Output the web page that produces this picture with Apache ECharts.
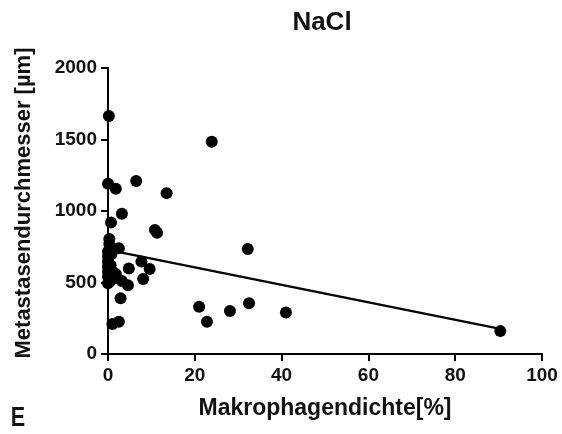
<!DOCTYPE html>
<html>
<head>
<meta charset="utf-8">
<title>NaCl</title>
<script src="https://cdn.jsdelivr.net/npm/echarts@6.0.0/dist/echarts.min.js"></script>
<style>
	html, body { margin: 0; padding: 0; background: #fff; }
	#echart { width: 562px; height: 434px; }
</style>
</head>
<body>
<div id="echart"></div>
<script>
// Makrophagendichte [%] / Metastasendurchmesser [µm]
var points = [
	[0.2, 1665], [23.9, 1485], [0, 1190], [1.8, 1155], [6.5, 1210],
	[13.5, 1125], [3.2, 980], [0.7, 920], [10.8, 868], [11.3, 848],
	[0.3, 805], [0.3, 770], [2.5, 740], [0, 715], [0, 680],
	[0, 645], [0, 610], [0, 576], [0, 540], [0, 495],
	[1.5, 530], [1.8, 560], [3.2, 510], [4.6, 480], [7.7, 646],
	[4.8, 598], [9.6, 595], [8.1, 525], [2.9, 390], [1.0, 210],
	[2.5, 225], [21.0, 330], [22.8, 225], [28.1, 300], [32.2, 735],
	[32.5, 355], [41.0, 290], [90.4, 160],
	[0.8, 700], [0.6, 620], [1.0, 575], [0.5, 510]
];
// regression line, ends
var fitLine = [[0, 728], [90.4, 176]];
var xTicks = [0, 20, 40, 60, 80, 100];
var yTicks = [0, 500, 1000, 1500, 2000];

var FONT = "'Liberation Sans', Arial, sans-serif";

function axisStyle(){
	return {
		axisLine: { show: true, onZero: false, lineStyle: { color: '#000', width: 2 } },
		axisTick: { show: true, inside: false, length: 7, lineStyle: { color: '#000', width: 2 } },
		splitLine: { show: false },
		axisLabel: {
			color: '#111', fontFamily: FONT, fontWeight: 'bold', fontSize: 19, margin: 12,
			formatter: function(v){ return String(v); }
		}
	};
}

function initReport(){
	var domain = document.getElementById("echart");
	var myChart = echarts.init(domain, null, { renderer: 'canvas' });

	var xAxis = axisStyle();
	xAxis.type = 'value';
	xAxis.min = xTicks[0];
	xAxis.max = xTicks[xTicks.length - 1];
	xAxis.interval = xTicks[1] - xTicks[0];

	var yAxis = axisStyle();
	yAxis.type = 'value';
	yAxis.min = yTicks[0];
	yAxis.max = yTicks[yTicks.length - 1];
	yAxis.interval = yTicks[1] - yTicks[0];
	yAxis.axisLabel.margin = 11;

	var option = {
		animation: false,
		backgroundColor: '#fff',
		grid: { left: 108, right: 20, top: 68, bottom: 80, containLabel: false },
		xAxis: xAxis,
		yAxis: yAxis,
		series: [
			{
				type: 'line',
				data: fitLine,
				symbol: 'none',
				lineStyle: { color: '#000', width: 2.2 },
				z: 2
			},
			{
				type: 'scatter',
				data: points,
				symbol: 'circle',
				symbolSize: 12,
				itemStyle: { color: '#000', opacity: 1 },
				emphasis: { disabled: true },
				z: 3
			}
		],
		graphic: [
			{
				type: 'text', x: 322, y: 23,
				style: { text: 'NaCl', fill: '#111', font: 'bold 26px ' + FONT, textAlign: 'center', textVerticalAlign: 'middle' }
			},
			{
				type: 'text', x: 325, y: 409,
				style: { text: 'Makrophagendichte[%]', fill: '#111', font: 'bold 23px ' + FONT, textAlign: 'center', textVerticalAlign: 'middle' }
			},
			{
				type: 'text', x: 24, y: 203, rotation: Math.PI / 2,
				style: { text: 'Metastasendurchmesser [µm]', fill: '#111', font: 'bold 22px ' + FONT, textAlign: 'center', textVerticalAlign: 'middle' }
			},
			{
				type: 'text', x: 18, y: 419, scaleX: 0.8,
				style: { text: 'E', fill: '#111', font: 'bold 27px ' + FONT, textAlign: 'center', textVerticalAlign: 'middle' }
			}
		]
	};
	myChart.setOption(option);
}

initReport();
</script>
</body>
</html>
